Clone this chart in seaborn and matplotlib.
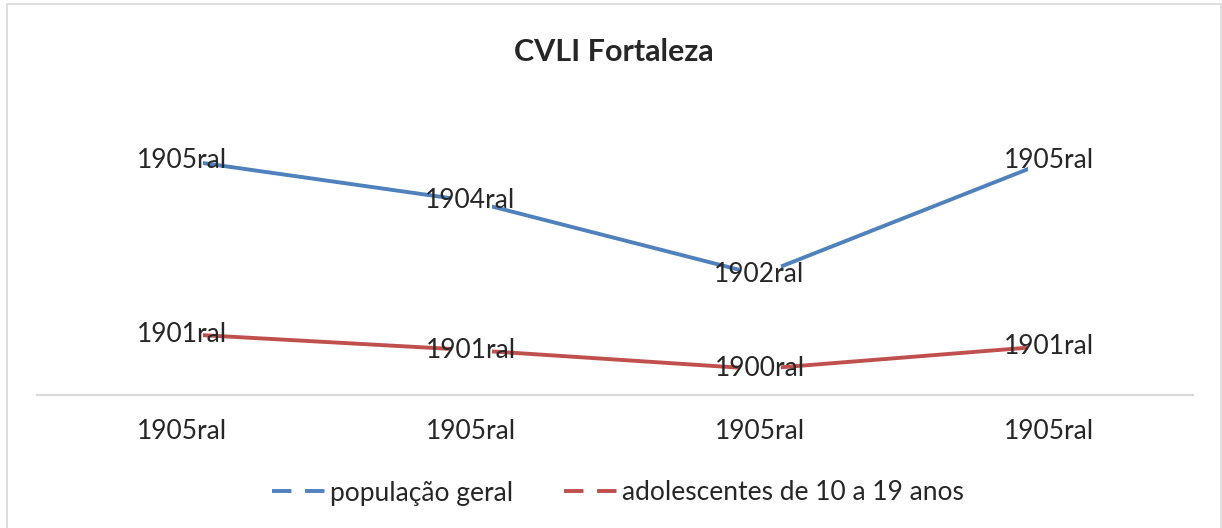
import pandas as pd
import seaborn as sns
import matplotlib.pyplot as plt
from matplotlib.lines import Line2D
from matplotlib.patches import Rectangle

# data (arbitrary units)
categorias = ['1905ral', '1905ral', '1905ral', '1905ral']
series = ['população geral', 'adolescentes de 10 a 19 anos']
pop_geral = [235, 194, 120, 234]
adolescentes = [61, 45, 26, 49]
rotulos_pop = ['1905ral', '1904ral', '1902ral', '1905ral']
rotulos_adol = ['1901ral', '1901ral', '1900ral', '1901ral']
cores = ['#4f81bd', '#c0504d']

sns.set_style('white')
plt.rcParams['font.family'] = ['Lato', 'DejaVu Sans']

df = pd.DataFrame({
    'pos': list(range(len(categorias))) * 2,
    'valor': pop_geral + adolescentes,
    'serie': [series[0]] * len(pop_geral) + [series[1]] * len(adolescentes),
})

W, H = 1222, 528
fig = plt.figure(figsize=(W / 100, H / 100), dpi=100)
ax = fig.add_axes([37 / W, 1 - 395 / H, (1193 - 37) / W, (395 - 90) / H])

sns.lineplot(data=df, x='pos', y='valor', hue='serie', palette=cores,
             linewidth=2.8, legend=False, ax=ax, zorder=2)

# white boxes behind the data labels (hide the line around each point)
box = [(-1, -0.45), (1, -0.45), (1, 0.45), (-1, 0.45), (-1, -0.45)]
for vals, rots in [(pop_geral, rotulos_pop), (adolescentes, rotulos_adol)]:
    ax.scatter(range(len(vals)), vals, marker=box, s=950, color='white',
               linewidths=0, zorder=3)
    for i, (v, r) in enumerate(zip(vals, rots)):
        ax.text(i, v, r, ha='center', va='center', fontsize=19, zorder=4)

ax.set_xlim(-0.5, len(categorias) - 0.5)
ax.set_ylim(0, 305)
ax.set_xticks(range(len(categorias)))
ax.set_xticklabels(categorias, fontsize=19)
ax.tick_params(axis='x', length=0, pad=17)
ax.set_yticks([])
ax.set_xlabel('')
ax.set_ylabel('')
for s in ['left', 'right', 'top']:
    ax.spines[s].set_visible(False)
ax.spines['bottom'].set_color('#d9d9d9')
ax.spines['bottom'].set_linewidth(1.6)

fig.text(614 / W, 1 - 52 / H, 'CVLI Fortaleza', ha='center', va='center',
         fontsize=22, fontweight='bold')

handles = [Line2D([], [], color=c, lw=2.8, dashes=(5, 3.5)) for c in cores]
fig.legend(handles, series, loc='center', bbox_to_anchor=(618 / W, 1 - 493 / H),
           ncol=2, frameon=False, fontsize=19, handlelength=2.1,
           handletextpad=0.1, columnspacing=1.9)

# chart frame
fig.patches.append(Rectangle((7 / W, -0.05), (1221 - 7) / W, 1.05 - 4 / H,
                             transform=fig.transFigure, fill=False,
                             edgecolor='#d9d9d9', linewidth=1.2))

fig.savefig('out.png', dpi=100)
